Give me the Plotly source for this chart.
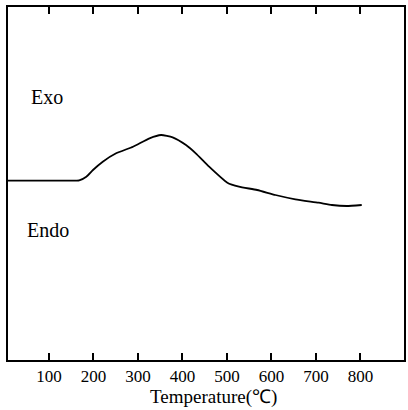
import plotly.graph_objects as go

temperature = [8, 80, 150, 168, 184, 199, 221, 251, 289, 326, 352, 378, 408, 430, 460, 501, 527, 568, 609, 654, 706, 736, 769, 803]
signal = [0, 0, 0, 0.3, 4, 10.7, 19, 27.4, 34, 42.4, 45.7, 43.4, 35.7, 27.4, 14, -2, -6, -9.3, -14.3, -18.6, -22, -24.3, -25.3, -24.3]
tick_vals = [100, 200, 300, 400, 500, 600, 700, 800]
labels = ["Exo", "Endo"]
label_x = [96, 98]
label_y = [84, -49]
x_title = "Temperature(℃)"

font_family = "Liberation Serif"

fig = go.Figure()
fig.add_trace(go.Scatter(x=temperature, y=signal, mode="lines",
                         line=dict(color="black", width=1.8, shape="spline", smoothing=0.5),
                         showlegend=False, hoverinfo="skip"))

for t, xx, yy in zip(labels, label_x, label_y):
    fig.add_annotation(x=xx, y=yy, xref="x", yref="y", text=t, showarrow=False,
                       font=dict(family=font_family, size=20, color="black"))

fig.add_annotation(x=0.52, y=-0.105, xref="paper", yref="paper", text=x_title, showarrow=False,
                   xanchor="center", yanchor="middle", borderpad=0,
                   font=dict(family=font_family, size=19, color="black"))

fig.update_layout(
    width=408, height=410,
    margin=dict(l=8, r=2, t=7, b=50),
    paper_bgcolor="white", plot_bgcolor="white",
    font=dict(family=font_family, color="black"),
    xaxis=dict(range=[8, 898], tickvals=tick_vals, ticks="inside", ticklen=7, tickwidth=1.5,
               tickcolor="black", showline=True, linecolor="black", linewidth=1.5, mirror="ticks",
               showgrid=False, zeroline=False, tickfont=dict(size=17, family=font_family)),
    yaxis=dict(range=[-179.3, 173.7], showticklabels=False, ticks="", showline=True,
               linecolor="black", linewidth=1.5, mirror=True, showgrid=False, zeroline=False),
)

fig.write_html("out.html")
